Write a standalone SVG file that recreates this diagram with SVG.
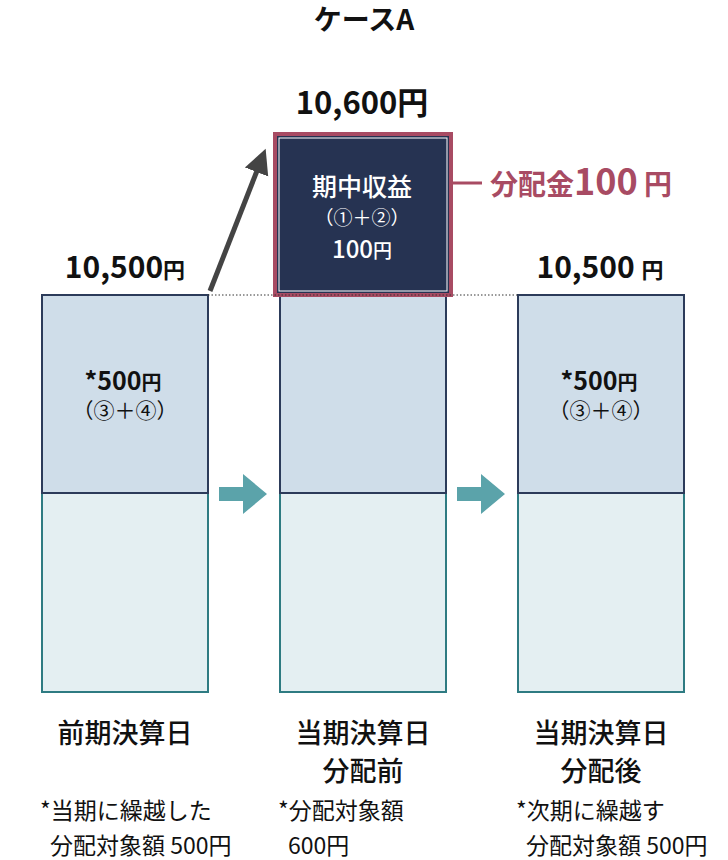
<svg xmlns="http://www.w3.org/2000/svg" width="728" height="860" viewBox="0 0 728 860">
<style>
text{font-family:"Noto Sans CJK JP","Noto Sans",sans-serif;fill:#111}
.b{font-weight:bold}
.m{font-weight:500}
.up{fill:#cfdde9;stroke:#2c3b5a;stroke-width:2}
.lo{fill:#e4eff2;stroke:#2e7b82;stroke-width:2}
.t{fill:#5ba3aa}
</style>
<defs><marker id="ah" markerWidth="6" markerHeight="6" refX="3" refY="3" orient="auto" markerUnits="strokeWidth"><path d="M0,0.5 L5,3 L0,5.5 z" fill="#444"/></marker></defs>
<rect width="728" height="860" fill="#fff"/>
<text x="364" y="30" text-anchor="middle" font-size="28" class="b">ケースA</text>
<g id="col1">
<rect class="lo" x="42" y="493" width="166" height="199"/>
<rect class="up" x="42" y="295" width="166" height="198"/>
<text x="125" y="278" text-anchor="middle" font-size="30" class="b">10,500<tspan font-size="22">円</tspan></text>
<text x="123" y="390" text-anchor="middle" font-size="25" class="b">*500<tspan font-size="20">円</tspan></text>
<text x="125" y="418" text-anchor="middle" font-size="21">（③＋④）</text>
<text x="125" y="743" text-anchor="middle" font-size="27" class="m">前期決算日</text>
<text x="40" y="819" font-size="23">*当期に繰越した</text>
<text x="50" y="854" font-size="23">分配対象額 500円</text>
</g>
<g id="col2">
<rect class="lo" x="280" y="493" width="166" height="199"/>
<rect class="up" x="280" y="295" width="166" height="198"/>
<rect x="275" y="134" width="176" height="161" fill="#263352" stroke="#a84b63" stroke-width="4"/>
<rect x="279" y="138" width="168" height="153" fill="none" stroke="#fff" stroke-width="1"/>
<text x="362" y="114" text-anchor="middle" font-size="31" class="b">10,600円</text>
<text x="362" y="196" text-anchor="middle" font-size="25" class="m" style="fill:#fff">期中収益</text>
<text x="362" y="225" text-anchor="middle" font-size="19" style="fill:#fff">（①＋②）</text>
<text x="362" y="258" text-anchor="middle" font-size="24" class="m" style="fill:#fff">100<tspan font-size="19">円</tspan></text>
<line x1="453" y1="183" x2="482" y2="183" stroke="#a84b63" stroke-width="3"/>
<text x="490" y="195" font-size="28" class="b" style="fill:#a84b63">分配金<tspan font-size="36">100</tspan><tspan font-size="28"> 円</tspan></text>
<text x="363" y="743" text-anchor="middle" font-size="27" class="m">当期決算日</text>
<text x="363" y="781" text-anchor="middle" font-size="27" class="m">分配前</text>
<text x="278" y="819" font-size="23">*分配対象額</text>
<text x="288" y="854" font-size="23">600円</text>
</g>
<g id="col3">
<rect class="lo" x="518" y="493" width="166" height="199"/>
<rect class="up" x="518" y="295" width="166" height="198"/>
<text x="600" y="278" text-anchor="middle" font-size="30" class="b">10,500 <tspan font-size="22">円</tspan></text>
<text x="599" y="390" text-anchor="middle" font-size="25" class="b">*500<tspan font-size="20">円</tspan></text>
<text x="601" y="418" text-anchor="middle" font-size="21">（③＋④）</text>
<text x="601" y="743" text-anchor="middle" font-size="27" class="m">当期決算日</text>
<text x="601" y="781" text-anchor="middle" font-size="27" class="m">分配後</text>
<text x="516" y="819" font-size="23">*次期に繰越す</text>
<text x="526" y="854" font-size="23">分配対象額 500円</text>
</g>
<g id="connectors">
<line x1="208" y1="295" x2="518" y2="295" stroke="#333" stroke-width="1" stroke-dasharray="1.5,2"/>
<line x1="210" y1="291" x2="262" y2="158" stroke="#444" stroke-width="5" marker-end="url(#ah)"/>
<path class="t" d="M219,487 H243 V474 L267,494 L243,514 V501 H219 z"/>
<path class="t" d="M457,487 H481 V474 L505,494 L481,514 V501 H457 z"/>
</g>
</svg>
